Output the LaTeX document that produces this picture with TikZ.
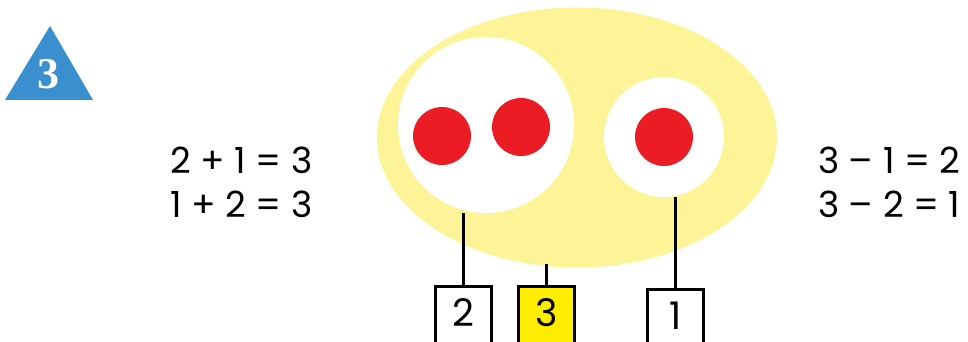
\documentclass[tikz,border=0pt]{standalone}
\usepackage{fontspec}
\setmainfont{Poppins}
\newfontfamily\badgefont{Liberation Serif}
\usepackage{tikz}
\usetikzlibrary{shapes.geometric}
\definecolor{setyellow}{RGB}{253,244,152}
\definecolor{boxyellow}{RGB}{255,237,0}
\definecolor{dotred}{RGB}{236,28,36}
\definecolor{triblue}{RGB}{58,143,206}

\begin{document}
\begin{tikzpicture}[x=1pt,y=-1pt,
  dot/.style={circle,fill=dotred,minimum size=58pt,inner sep=0pt},
  numbox/.style={draw=black,line width=2.6pt,minimum width=56pt,minimum height=66pt,
    inner sep=0pt,text depth=14pt,anchor=north,font=\fontsize{38}{38}\selectfont},
  eqn/.style={inner sep=0pt,font=\fontsize{36}{36}\selectfont},
  stick/.style={line width=2.6pt}]

\useasboundingbox (0,0) rectangle (968,342);

% the badge
\fill[triblue] (5,100) -- (50,26) -- (93,100) -- cycle;
\node[text=white,font=\badgefont\bfseries\fontsize{44}{44}\selectfont] (badge) at (48,74) {3};

% the sets
\node[ellipse,fill=setyellow,minimum width=400pt,minimum height=260pt,inner sep=0pt] (whole) at (577,137.5) {};
\node[circle,fill=white,minimum size=176pt,inner sep=0pt] (lset) at (486,125) {};
\node[circle,fill=white,minimum size=120pt,inner sep=0pt] (rset) at (664,137) {};

\node[dot] (d1) at (442,136) {};
\node[dot] (d2) at (521,127) {};
\node[dot] (d3) at (664,137) {};

% the number boxes
\node[numbox] (box2) at (463.5,285) {2};
\node[numbox,fill=boxyellow] (box3) at (546.5,285) {3};
\node[numbox] (box1) at (675.5,288) {1};

\draw[stick] (box2.north) -- (box2.north |- lset.south);
\draw[stick] (box3.north) -- ([yshift=4pt]box3.north |- whole.south);
\draw[stick] (box1.north) -- (box1.north |- rset.south);

% the sums
\node[eqn,anchor=base east] (add1) at (313,173) {2 + 1 = 3};
\node[eqn,anchor=base east] (add2) at (313,217) {1 + 2 = 3};
\node[eqn,anchor=base west] (sub1) at (818,173) {3 – 1 = 2};
\node[eqn,anchor=base west] (sub2) at (818,217) {3 – 2 = 1};

\end{tikzpicture}
\end{document}
